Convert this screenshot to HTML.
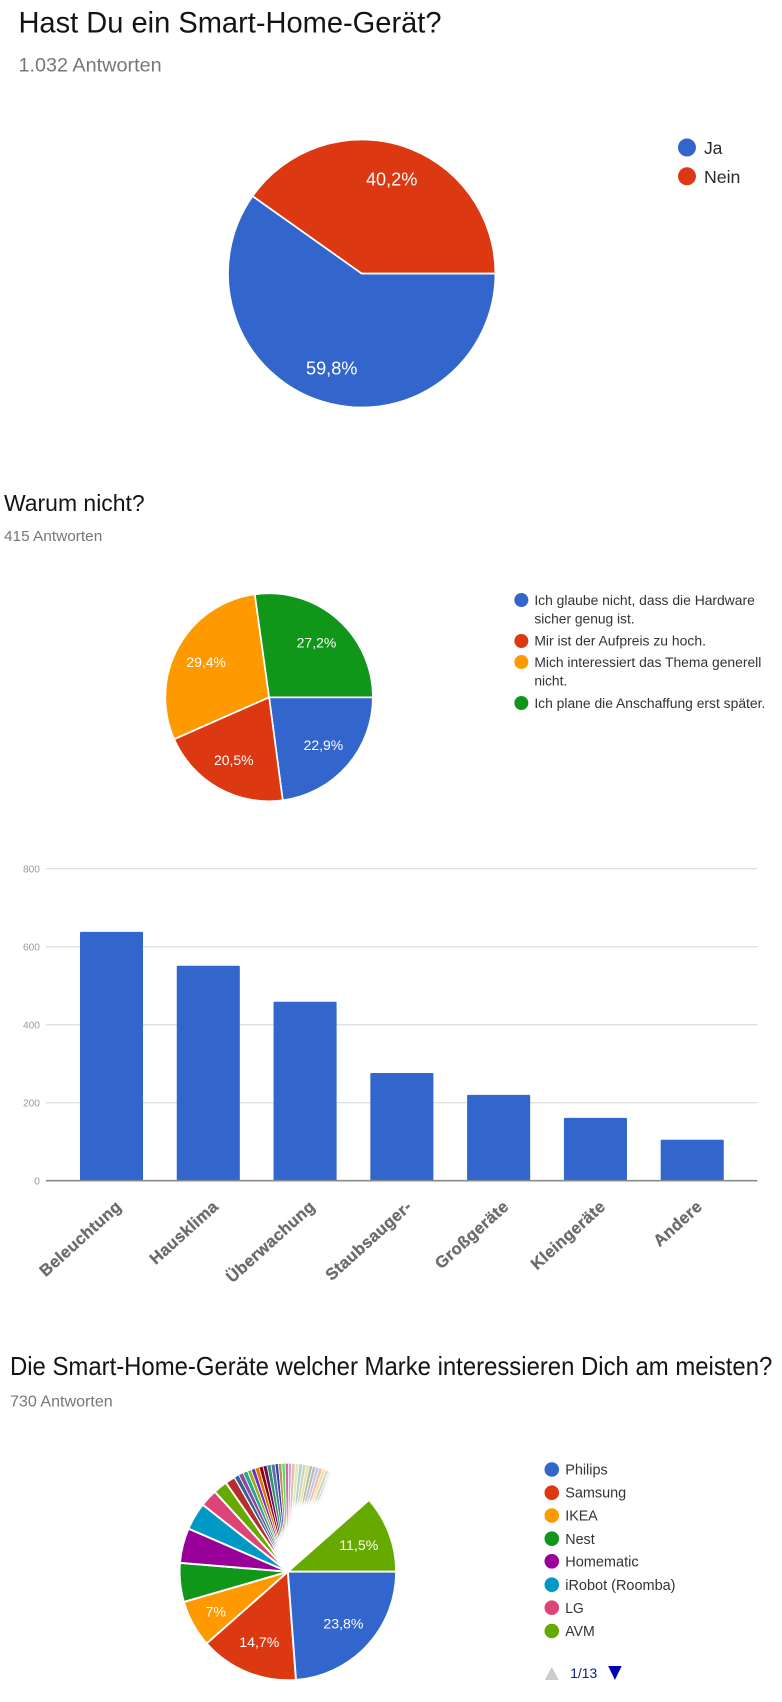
<!DOCTYPE html>
<html lang="de">
<head>
<meta charset="utf-8">
<title>Smart-Home-Umfrage</title>
<style>
html,body{margin:0;padding:0;background:#fff;}
svg{display:block;filter:blur(0.35px);}
text{font-family:"Liberation Sans",Arial,sans-serif;}
</style>
</head>
<body>
<svg id="page" xmlns="http://www.w3.org/2000/svg" width="782" height="1702" viewBox="0 0 782 1702">
  <defs>
    <filter id="soft" x="-20%" y="-20%" width="140%" height="140%"><feGaussianBlur stdDeviation="2.2"/></filter>
  </defs>
  <rect x="0" y="0" width="782" height="1702" fill="#fff"/>
  <g transform="scale(0.9978 1)">

  <text x="18.5" y="32.3" font-size="29.5" fill="#141414" textLength="424" lengthAdjust="spacingAndGlyphs">Hast Du ein Smart-Home-Gerät?</text>
  <text x="18.5" y="71.5" font-size="19" fill="#777" textLength="143.5" lengthAdjust="spacingAndGlyphs">1.032 Antworten</text>
  <g id="pie-owners"></g>
  <g font-size="18" fill="#2a2a2a">
    <g><circle cx="688.5" cy="147.5" r="9" fill="#3366cc"/><text x="705.5" y="154" textLength="18.5" lengthAdjust="spacingAndGlyphs">Ja</text></g>
    <g><circle cx="688.5" cy="176.3" r="9" fill="#dc3912"/><text x="705.5" y="183" textLength="36.5" lengthAdjust="spacingAndGlyphs">Nein</text></g>
  </g>

  <text x="4" y="511" font-size="23.5" fill="#141414" textLength="141" lengthAdjust="spacingAndGlyphs">Warum nicht?</text>
  <text x="4" y="541" font-size="15" fill="#777" textLength="98.5" lengthAdjust="spacingAndGlyphs">415 Antworten</text>
  <g id="pie-reasons"></g>
  <g font-size="14" fill="#333">
    <g><circle cx="522.5" cy="600" r="7" fill="#3366cc"/><text x="535.5" y="605" textLength="221" lengthAdjust="spacingAndGlyphs">Ich glaube nicht, dass die Hardware</text><text x="535.5" y="623.7" textLength="100.5" lengthAdjust="spacingAndGlyphs">sicher genug ist.</text></g>
    <g><circle cx="522.5" cy="641" r="7" fill="#dc3912"/><text x="535.5" y="645.7" textLength="172" lengthAdjust="spacingAndGlyphs">Mir ist der Aufpreis zu hoch.</text></g>
    <g><circle cx="522.5" cy="662" r="7" fill="#ff9900"/><text x="535.5" y="667" textLength="227.5" lengthAdjust="spacingAndGlyphs">Mich interessiert das Thema generell</text><text x="535.5" y="685.7" textLength="33" lengthAdjust="spacingAndGlyphs">nicht.</text></g>
    <g><circle cx="522.5" cy="703" r="7" fill="#109618"/><text x="535.5" y="708" textLength="231.5" lengthAdjust="spacingAndGlyphs">Ich plane die Anschaffung erst später.</text></g>
  </g>

  <g id="bar-chart"></g>

  <text x="10" y="1375" font-size="25.5" fill="#141414" textLength="764" lengthAdjust="spacingAndGlyphs">Die Smart-Home-Geräte welcher Marke interessieren Dich am meisten?</text>
  <text x="10" y="1406.7" font-size="15.5" fill="#777" textLength="103" lengthAdjust="spacingAndGlyphs">730 Antworten</text>
  <g id="pie-brands"></g>
  <g font-size="14.5" fill="#333">
    <g><circle cx="553" cy="1469.5" r="7.3" fill="#3366cc"/><text x="566.5" y="1474.3" textLength="42.5" lengthAdjust="spacingAndGlyphs">Philips</text></g>
    <g><circle cx="553" cy="1492.7" r="7.3" fill="#dc3912"/><text x="566.5" y="1497.7" textLength="61" lengthAdjust="spacingAndGlyphs">Samsung</text></g>
    <g><circle cx="553" cy="1515.5" r="7.3" fill="#ff9900"/><text x="566.5" y="1520.5" textLength="32.5" lengthAdjust="spacingAndGlyphs">IKEA</text></g>
    <g><circle cx="553" cy="1538.7" r="7.3" fill="#109618"/><text x="566.5" y="1543.9" textLength="29.5" lengthAdjust="spacingAndGlyphs">Nest</text></g>
    <g><circle cx="553" cy="1561.3" r="7.3" fill="#990099"/><text x="566.5" y="1566.5" textLength="73.5" lengthAdjust="spacingAndGlyphs">Homematic</text></g>
    <g><circle cx="553" cy="1584.7" r="7.3" fill="#0099c6"/><text x="566.5" y="1589.9" textLength="110.5" lengthAdjust="spacingAndGlyphs">iRobot (Roomba)</text></g>
    <g><circle cx="553" cy="1607.7" r="7.3" fill="#dd4477"/><text x="566.5" y="1612.9" textLength="18.5" lengthAdjust="spacingAndGlyphs">LG</text></g>
    <g><circle cx="553" cy="1631" r="7.3" fill="#66aa00"/><text x="566.5" y="1636.2" textLength="29.5" lengthAdjust="spacingAndGlyphs">AVM</text></g>
  </g>
  <g>
    <polygon points="553,1667 560,1680 546,1680" fill="#ccc"/>
    <text x="571.5" y="1678" font-size="14" fill="#0a1a8c" textLength="27" lengthAdjust="spacingAndGlyphs">1/13</text>
    <polygon points="609.5,1666 623,1666 616.3,1680" fill="#0000b0"/>
  </g>
  </g>
</svg>

<script>
// ---- chart data ----
const ownerShares = [59.8, 40.2];
const reasonShares = [22.9, 20.5, 29.4, 27.2];
const brandShares = [
  23.8, 14.7, 7, 5.8, 5.2, 4.1, 2.6, 2.1, 1.5,
  0.7, 0.7, 0.7, 0.6, 0.6, 0.6, 0.6, 0.6, 0.6, 0.6, 0.5, 0.5, 0.5, 0.5, 0.45,
  0.55, 0.55, 0.55, 0.5, 0.5, 0.5, 0.5, 0.5, 0.5, 0.5, 0.5, 0.5, 0.5, 0.55,
  5.75, 11.5
];
const barCategories = ["Beleuchtung", "Hausklima", "Überwachung", "Staubsauger-", "Großgeräte", "Kleingeräte", "Andere"];
const barValues = [638, 551, 459, 276, 220, 161, 105];
const barTicks = [0, 200, 400, 600, 800];

// ---- styling constants ----
const palette = ["#3366cc","#dc3912","#ff9900","#109618","#990099","#0099c6","#dd4477","#66aa00","#b82e2e","#316395","#994499","#22aa99","#aaaa11","#6633cc","#e67300","#8b0707","#651067","#329262","#5574a6","#3b3eac","#b77322","#16d620","#b91383","#f4359e","#9c5935","#a9c413","#2a778d","#668d1c","#bea413","#0c5922","#743411"];
const NS = "http://www.w3.org/2000/svg";

function make(tag, attrs, parent) {
  const node = document.createElementNS(NS, tag);
  for (const key in attrs) node.setAttribute(key, attrs[key]);
  parent.appendChild(node);
  return node;
}

// ---- pie helpers ----
function angleOf(cumulative) { return cumulative / 100 * 2 * Math.PI; }

function wedgePath(cx, cy, r, from, to) {
  const a0 = angleOf(from), a1 = angleOf(to);
  const large = (a1 - a0) > Math.PI ? 1 : 0;
  return "M" + cx + " " + cy +
    "L" + (cx + r * Math.cos(a0)) + " " + (cy + r * Math.sin(a0)) +
    "A" + r + " " + r + " 0 " + large + " 1 " + (cx + r * Math.cos(a1)) + " " + (cy + r * Math.sin(a1)) + "Z";
}

function drawSliceLabel(group, cx, cy, r, from, value, fontSize, radial) {
  const mid = angleOf(from + value / 2);
  const label = make("text", {
    x: cx + r * radial * Math.cos(mid),
    y: cy + r * radial * Math.sin(mid) + fontSize * 0.35,
    "text-anchor": "middle",
    "font-size": fontSize,
    fill: "#fff"
  }, group);
  
  
  label.textContent = String(value).replace(".", ",") + "%";
}

function drawSimplePie(id, values, cx, cy, r, fontSize, radial) {
  const group = document.getElementById(id);
  let cum = 0;
  values.forEach(function (v, i) {
    const slice = make("path", { d: wedgePath(cx, cy, r, cum, cum + v), fill: palette[i], stroke: "#fff", "stroke-width": 1.7 }, group);
    
    
    cum += v;
  });
  cum = 0;
  values.forEach(function (v) {
    drawSliceLabel(group, cx, cy, r, cum, v, fontSize, radial);
    cum += v;
  });
}

drawSimplePie("pie-owners", ownerShares, 362.5, 273.5, 134, 18.2, 0.74);
drawSimplePie("pie-reasons", reasonShares, 269.7, 697.3, 104, 14, 0.695);

// ---- brand pie: long tail partly erased in the source picture ----
(function () {
  const group = document.getElementById("pie-brands");
  const cx = 288.5, cy = 1571.7, r = 108.5;
  const lastIndex = brandShares.length - 1;
  const gapIndex = lastIndex - 1;
  let cum = 0;
  const starts = brandShares.map(function (v) { const s = cum; cum += v; return s; });

  brandShares.forEach(function (v, i) {
    if (i >= gapIndex) return;
    let opacity = 1;
    if (i >= 24) opacity = 0.36;
    else if (i >= 20) opacity = 0.8 - (i - 20) * 0.08;
    const slice = make("path", {
      d: wedgePath(cx, cy, r, starts[i], starts[i] + v),
      fill: palette[i % palette.length],
      "fill-opacity": opacity,
      stroke: "#fff",
      "stroke-width": i < 9 ? 1.9 : 0.75
    }, group);
    
    
  });

  const blob = make("polygon", {
    points: "288.5,1571.7 274,1552 278,1537 288,1524 293,1504 320,1500 329,1470 352,1466 374,1499",
    fill: "#fff",
    filter: "url(#soft)"
  }, group);
  
  

  const last = make("path", {
    d: wedgePath(cx, cy, r, starts[lastIndex], starts[lastIndex] + brandShares[lastIndex]),
    fill: palette[7], stroke: "#fff", "stroke-width": 1.9
  }, group);
  
  

  // first slice redrawn so its edge stays crisp over the overlay
  const first = make("path", {
    d: wedgePath(cx, cy, r, starts[0], starts[0] + brandShares[0]),
    fill: palette[0], stroke: "#fff", "stroke-width": 1.9
  }, group);
  
  

  brandShares.forEach(function (v, i) {
    if (i === gapIndex || v < 6.5) return;
    drawSliceLabel(group, cx, cy, r, starts[i], v, 14.2, i === 2 ? 0.76 : 0.7);
  });
})();

// ---- bar chart ----
(function () {
  const group = document.getElementById("bar-chart");
  const axisLeft = 46, axisRight = 759;
  const baseY = 1180.7, topY = 868.7, maxValue = 800;
  const bandStart = 63.25, bandStep = 97, barWidth = 63.2;
  function yScale(v) { return baseY - (v / maxValue) * (baseY - topY); }
  function xCenter(i) { return bandStart + bandStep * (i + 0.5); }

  barTicks.forEach(function (t) {
    if (t !== 0) {
      const line = make("line", { x1: axisLeft, x2: axisRight, y1: yScale(t), y2: yScale(t), stroke: "#e0e0e0", "stroke-width": 1.4 }, group);
      
      
    }
    const tick = make("text", { x: 40, y: yScale(t) + 3.6, "text-anchor": "end", "font-size": 10.2, fill: "#9a9a9a" }, group);
    
    
    tick.textContent = String(t);
  });

  barValues.forEach(function (v, i) {
    const bar = make("rect", {
      x: xCenter(i) - barWidth / 2, y: yScale(v),
      width: barWidth, height: baseY - yScale(v),
      rx: 1, fill: "#3366cc"
    }, group);
    
    
  });

  const axis = make("line", { x1: axisLeft, x2: axisRight, y1: baseY, y2: baseY, stroke: "#8a8a8a", "stroke-width": 1.7 }, group);
  
  

  barCategories.forEach(function (name, i) {
    const ax = xCenter(i) + 11, ay = 1208;
    const cat = make("text", {
      x: ax, y: ay,
      "text-anchor": "end",
      "font-size": 16.5,
      "font-weight": "bold",
      "letter-spacing": "0.35",
      fill: "#6b6b6b",
      stroke: "#6b6b6b",
      "stroke-width": 0.3,
      transform: "rotate(-42 " + ax + " " + ay + ")"
    }, group);
    
    
    cat.textContent = name;
  });
})();
</script>
</body>
</html>
